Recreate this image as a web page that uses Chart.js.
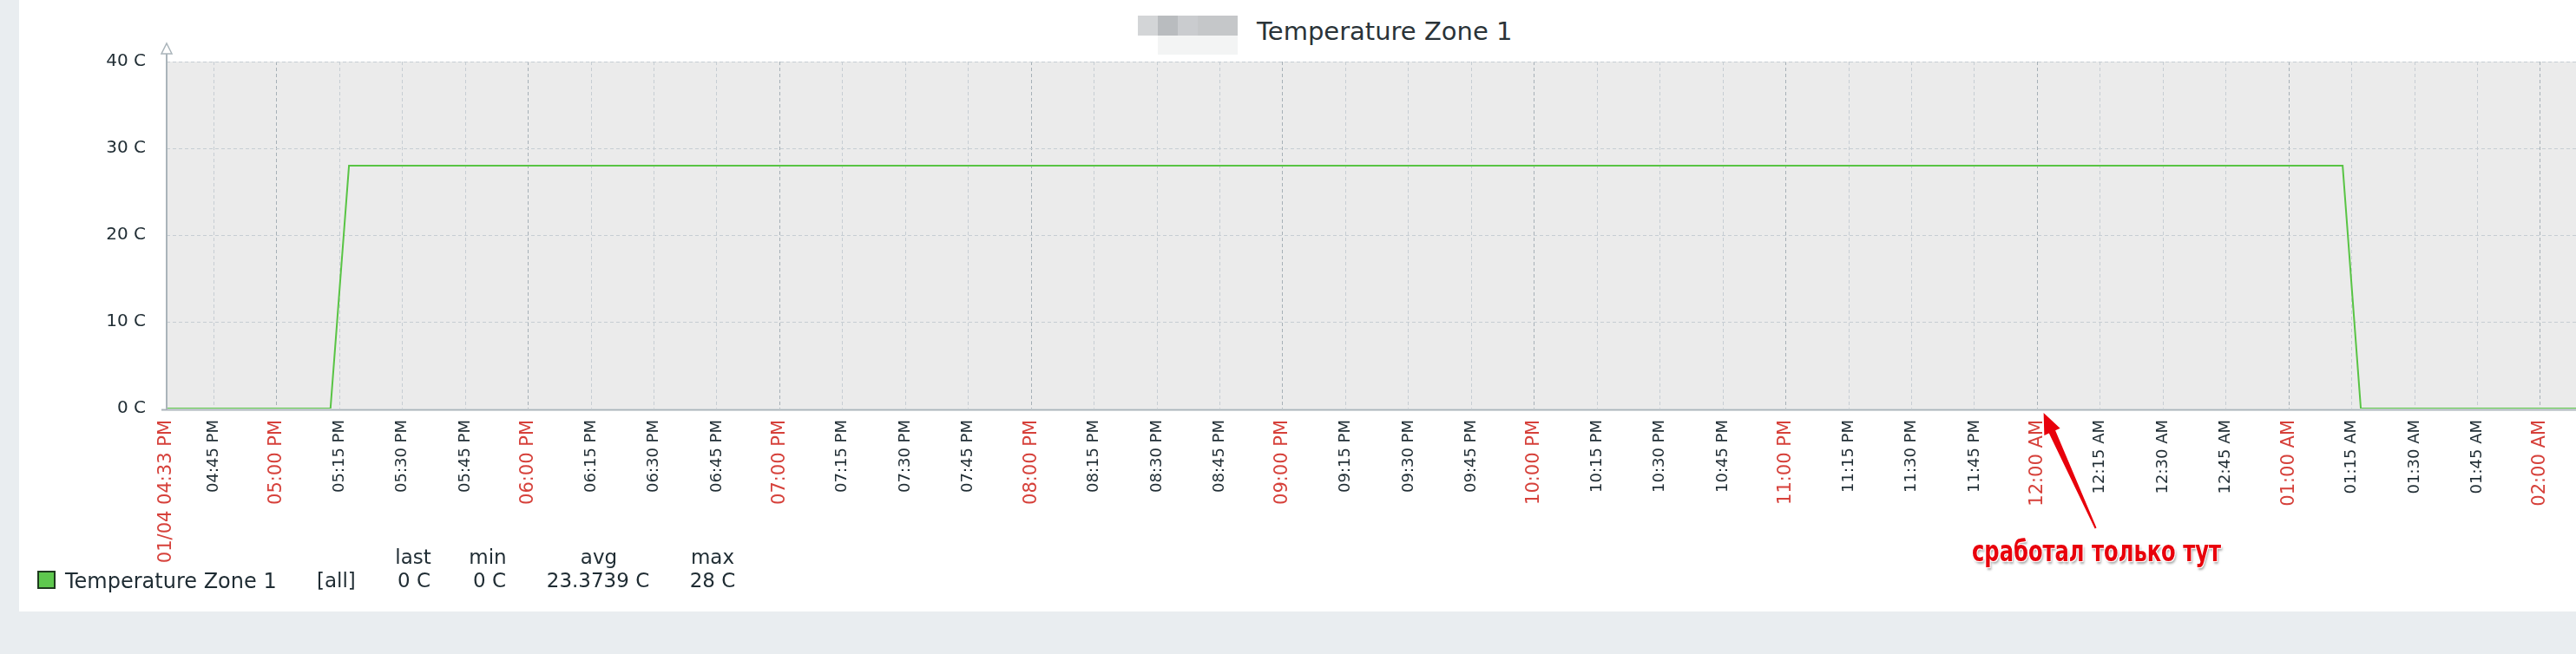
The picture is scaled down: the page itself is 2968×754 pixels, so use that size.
<!DOCTYPE html>
<html>
<head>
<meta charset="utf-8">
<script src="https://cdn.jsdelivr.net/npm/chart.js@4.4.1/dist/chart.umd.min.js"></script>
<style>
    body {
        margin: 0;
        width: 2968px;
        height: 754px;
        overflow: hidden;
        position: relative;
        background: #e9edf0;
        font-family: "DejaVu Sans", sans-serif;
        color: #1f2c33;
    }
    #panel {
        position: absolute;
        left: 22px;
        top: 0;
        width: 2946px;
        height: 705px;
        background: #fff;
    }
    #tempCanvas {
        position: absolute;
        left: 0;
        top: 0;
    }
    .txt {
        position: absolute;
        white-space: nowrap;
        line-height: 1;
    }
    .blur {
        position: absolute;
    }
    .legend {
        font-size: 23px;
        text-align: center;
        width: 160px;
    }
    #note {
        font-family: "Liberation Sans Narrow", "DejaVu Sans Condensed", sans-serif;
        font-weight: bold;
        font-size: 34px;
        color: #e8000b;
        transform-origin: 0 0;
        text-shadow: 1px 1px 0 #fff, -1px -1px 0 #fff, 1px -1px 0 #fff, -1px 1px 0 #fff,
            2px 3px 3px rgba(0, 0, 0, 0.35);
    }
</style>
</head>
<body>
<div id="panel"></div>

<div class="blur" style="left:1311px;top:18px;width:23px;height:23px;background:#d3d5d7"></div>
<div class="blur" style="left:1334px;top:18px;width:23px;height:23px;background:#b9bcbf"></div>
<div class="blur" style="left:1357px;top:18px;width:23px;height:23px;background:#cacccf"></div>
<div class="blur" style="left:1380px;top:18px;width:46px;height:23px;background:#c5c7c9"></div>
<div class="blur" style="left:1334px;top:41px;width:92px;height:22px;background:#f3f4f4"></div>
<div class="txt" style="left:1448px;top:22px;font-size:29px;color:#2a3338">Temperature Zone 1</div>

<canvas id="tempCanvas" width="2968" height="754"></canvas>

<div class="txt legend" style="left:396px;top:631px">last</div>
<div class="txt legend" style="left:482px;top:631px">min</div>
<div class="txt legend" style="left:610px;top:631px">avg</div>
<div class="txt legend" style="left:741px;top:631px">max</div>
<div style="position:absolute;left:43px;top:658px;width:17px;height:17px;background:#5ec84e;border:2px solid #1e3a1e"></div>
<div class="txt" style="left:75px;top:658px;font-size:24px">Temperature Zone 1</div>
<div class="txt" style="left:365px;top:658px;font-size:23px">[all]</div>
<div class="txt legend" style="left:397px;top:658px">0 C</div>
<div class="txt legend" style="left:484px;top:658px">0 C</div>
<div class="txt legend" style="left:609px;top:658px">23.3739 C</div>
<div class="txt legend" style="left:741px;top:658px">28 C</div>

<div id="note" class="txt" style="left:2272px;top:618px">сработал только тут</div>

<script>
const tickLabels = [
    "01/04 04:33 PM", "04:45 PM", "05:00 PM", "05:15 PM", "05:30 PM", "05:45 PM",
    "06:00 PM", "06:15 PM", "06:30 PM", "06:45 PM", "07:00 PM", "07:15 PM",
    "07:30 PM", "07:45 PM", "08:00 PM", "08:15 PM", "08:30 PM", "08:45 PM",
    "09:00 PM", "09:15 PM", "09:30 PM", "09:45 PM", "10:00 PM", "10:15 PM",
    "10:30 PM", "10:45 PM", "11:00 PM", "11:15 PM", "11:30 PM", "11:45 PM",
    "12:00 AM", "12:15 AM", "12:30 AM", "12:45 AM", "01:00 AM", "01:15 AM",
    "01:30 AM", "01:45 AM", "02:00 AM",
];
const yTicks = [0, 10, 20, 30, 40];

// Temperature Zone 1 samples
const sampleTimes = ["04:33:45 PM", "05:12:50 PM", "05:17:15 PM", "01:12:50 AM", "01:17:10 AM", "02:08:30 AM"];
const temperatures = [0, 0, 28, 28, 0, 0];

const axisStart = "04:33:45 PM";
const axisEnd = "02:08:30 AM";
const arrowTipTime = "12:01:30 AM";

const RED = "#d6403a";
const DARK = "#1f2c33";
const AXIS = "#aab4ba";

// minutes since midnight 01/04, AM times belong to the next day
function toMinutes(label) {
    const parts = label.trim().split(" ");
    const ampm = parts.pop();
    const hms = parts.pop().split(":").map(Number);
    let h = hms[0] % 12;
    h += ampm === "PM" ? 12 : 24;
    return h * 60 + hms[1] + (hms[2] || 0) / 60;
}

// first label marks the (unrounded) start of the period
const tickValues = tickLabels.map((l, i) => (i === 0 ? toMinutes(axisStart) : toMinutes(l)));
const isMajor = (i) => i === 0 || tickValues[i] % 60 === 0;

const framePlugin = {
    id: "frame",
    beforeDraw(chart) {
        const { ctx, chartArea: a } = chart;
        ctx.save();
        ctx.fillStyle = "#ebebeb";
        ctx.fillRect(a.left, a.top, a.right - a.left, a.bottom - a.top);
        ctx.restore();
    },
    afterDraw(chart) {
        const { ctx, chartArea: a } = chart;
        const xs = chart.scales.x;
        const ys = chart.scales.y;
        ctx.save();
        ctx.strokeStyle = AXIS;
        ctx.lineWidth = 2;
        ctx.beginPath();
        ctx.moveTo(a.left, 62);
        ctx.lineTo(a.left, a.bottom + 2);
        ctx.moveTo(a.left - 6, a.bottom + 1.5);
        ctx.lineTo(chart.width, a.bottom + 1.5);
        ctx.stroke();
        // hollow arrow on top of y axis
        ctx.lineWidth = 1.5;
        ctx.fillStyle = "#fff";
        ctx.beginPath();
        ctx.moveTo(a.left, 50);
        ctx.lineTo(a.left + 6, 62);
        ctx.lineTo(a.left - 6, 62);
        ctx.closePath();
        ctx.fill();
        ctx.stroke();

        // red annotation arrow
        const tipX = xs.getPixelForValue(toMinutes(arrowTipTime));
        const tipY = ys.getPixelForValue(0) + 5;
        const tailX = tipX + 60;
        const tailY = tipY + 133;
        const len = Math.hypot(tailX - tipX, tailY - tipY);
        const ux = (tailX - tipX) / len;
        const uy = (tailY - tipY) / len;
        const nx = -uy;
        const ny = ux;
        const hx = tipX + ux * 24;
        const hy = tipY + uy * 24;
        ctx.fillStyle = "#e8000b";
        ctx.beginPath();
        ctx.moveTo(tipX, tipY);
        ctx.lineTo(hx + nx * 10, hy + ny * 10);
        ctx.lineTo(hx + nx * 4, hy + ny * 4);
        ctx.lineTo(tailX + nx * 1, tailY + ny * 1);
        ctx.lineTo(tailX - nx * 1, tailY - ny * 1);
        ctx.lineTo(hx - nx * 4, hy - ny * 4);
        ctx.lineTo(hx - nx * 10, hy - ny * 10);
        ctx.closePath();
        ctx.fill();
        ctx.restore();
    },
};

const ctx = document.getElementById("tempCanvas").getContext("2d");
const tempChart = new Chart(ctx, {
    type: "line",
    data: {
        datasets: [
            {
                label: "Temperature Zone 1",
                data: sampleTimes.map((t, i) => ({ x: toMinutes(t), y: temperatures[i] })),
                borderColor: "#58c444",
                borderWidth: 2,
                pointRadius: 0,
                tension: 0,
                fill: false,
            },
        ],
    },
    options: {
        responsive: false,
        animation: false,
        devicePixelRatio: 1,
        layout: { padding: { top: 71, left: 0, right: 0, bottom: 0 } },
        plugins: {
            legend: { display: false },
            tooltip: { enabled: false },
        },
        scales: {
            x: {
                type: "linear",
                min: toMinutes(axisStart),
                max: toMinutes(axisEnd),
                afterBuildTicks: (scale) => {
                    scale.ticks = tickValues.map((v) => ({ value: v }));
                },
                afterFit: (scale) => {
                    scale.height = 283;
                },
                grid: {
                    color: (c) => (c.index === 0 ? "rgba(0,0,0,0)" : isMajor(c.index) ? "#a6b0b7" : "#c6cdd3"),
                    lineWidth: 1,
                    drawTicks: false,
                },
                border: { display: false, dash: [4, 3] },
                ticks: {
                    autoSkip: false,
                    minRotation: 90,
                    maxRotation: 90,
                    padding: 13,
                    callback: (v, i) => tickLabels[i],
                    color: (c) => (isMajor(c.index) ? RED : DARK),
                    font: (c) => ({ family: "DejaVu Sans", size: isMajor(c.index) ? 21 : 18 }),
                },
            },
            y: {
                min: 0,
                max: 40,
                afterBuildTicks: (scale) => {
                    scale.ticks = yTicks.map((v) => ({ value: v }));
                },
                afterFit: (scale) => {
                    scale.width = 192;
                },
                grid: {
                    color: (c) => (c.index === 0 ? "rgba(0,0,0,0)" : "#c6cdd3"),
                    lineWidth: 1,
                    drawTicks: false,
                },
                border: { display: false, dash: [4, 3] },
                ticks: {
                    padding: 24,
                    callback: (v) => v + " C",
                    color: DARK,
                    font: { family: "DejaVu Sans", size: 20 },
                },
            },
        },
    },
    plugins: [framePlugin],
});

// squeeze the note to the narrow width it has in the screenshot
const note = document.getElementById("note");
const noteWidth = note.getBoundingClientRect().width;
note.style.transform = "scaleX(" + (287 / noteWidth).toFixed(3) + ")";
</script>
</body>
</html>
